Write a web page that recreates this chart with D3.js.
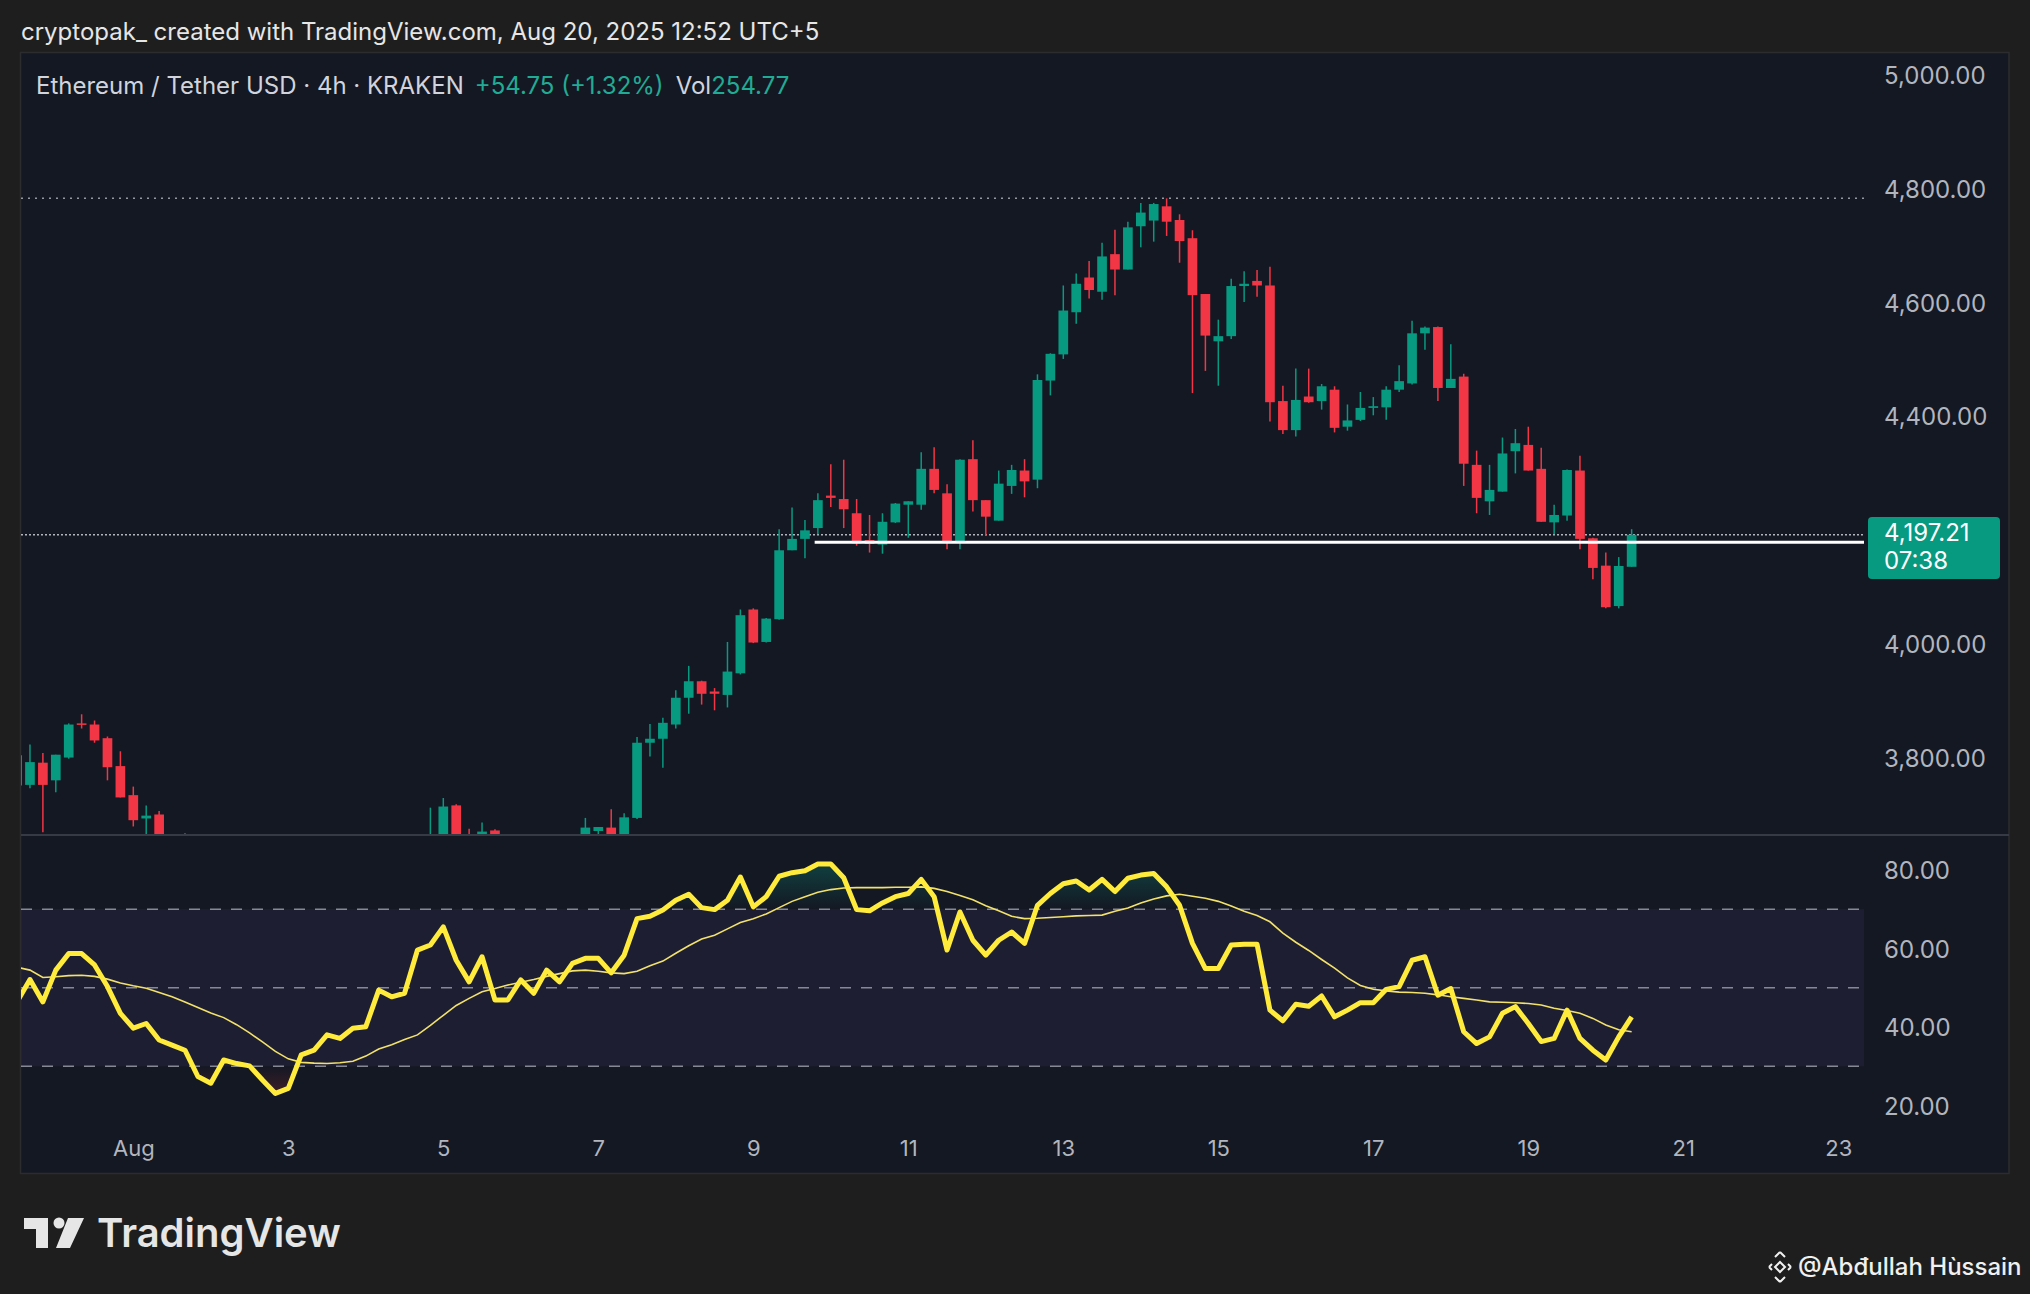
<!DOCTYPE html>
<html>
<head>
<meta charset="utf-8">
<script src="https://cdn.jsdelivr.net/npm/d3@7"></script>
<style>
  body { margin: 0; background: #1e1e1e; }
  text { font-family: Inter, "Noto Sans", sans-serif; }
</style>
</head>
<body>
<svg id="chart" width="2030" height="1294"></svg>
<script>
// ETH/USDT 4h candles, first bar Jul 30 12:00, one bar every 4 hours
const firstBar = Date.UTC(2025, 6, 30, 12);
const opens = [3810,3758,3797,3766,3806,3866,3864,3840,3791,3740,3699,3706,3640,3600,3575,3560,3500,3520,3480,3420,3450,3470,3430,3390,3420,3460,3500,3540,3580,3620,3590,3620,
  3640,3660,3722,3632,3660,3678,3645,3600,3580,3610,3630,3620,3650,3677,3683,3655,3700,3832,3839,3864,3911,3940,3922,3916,3954,4066,4009,4049,4170,4190,4209,4266,4260,
  4235,4188,4180,4219,4250,4250,4313,4270,4185,4330,4258,4222,4283,4310,4294,4468,4514,4588,4649,4624,4690,4663,4739,4749,4774,4750,4718,4620,4537,4546,4634,4643,
  4635,4432,4381,4440,4432,4452,4387,4399,4420,4421,4452,4463,4551,4562,4455,4475,4320,4256,4273,4344,4355,4313,4219,4231,4310,4191,4143,4072,4141];
const highs = [3822,3829,3814,3811,3866,3882,3871,3843,3817,3755,3722,3712,3655,3673,3630,3580,3540,3550,3500,3470,3490,3500,3450,3440,3480,3520,3560,3600,3640,3650,3640,3655,
  3718,3735,3724,3681,3692,3680,3655,3630,3620,3650,3658,3668,3700,3684,3715,3708,3842,3865,3876,3924,3967,3941,3928,4009,4066,4068,4051,4207,4245,4223,4270,4321,4329,
  4260,4232,4235,4253,4256,4342,4351,4286,4330,4363,4258,4310,4320,4330,4479,4516,4635,4656,4678,4710,4733,4747,4780,4780,4788,4760,4732,4620,4575,4647,4660,4662,
  4668,4459,4489,4489,4462,4458,4426,4448,4439,4458,4495,4573,4563,4563,4532,4480,4345,4320,4368,4383,4387,4350,4250,4312,4336,4192,4166,4158,4207];
const lows = [3752,3752,3675,3745,3804,3857,3832,3766,3736,3685,3650,3600,3580,3560,3540,3480,3470,3460,3380,3400,3420,3410,3360,3355,3400,3440,3480,3520,3560,3570,3560,3600,
  3630,3650,3620,3610,3640,3630,3590,3560,3550,3590,3600,3610,3640,3660,3650,3650,3698,3808,3788,3857,3883,3899,3889,3894,3952,4007,4008,4048,4170,4156,4198,4246,4209,
  4178,4166,4164,4218,4192,4241,4270,4172,4172,4238,4195,4222,4269,4263,4279,4442,4506,4568,4612,4610,4618,4663,4702,4712,4722,4675,4446,4485,4459,4541,4606,4615,
  4396,4374,4370,4429,4417,4377,4380,4397,4407,4399,4448,4461,4522,4432,4455,4283,4235,4232,4273,4305,4310,4220,4198,4222,4172,4119,4068,4068,4141];
const closes = [3757,3798,3758,3811,3864,3864,3836,3789,3736,3696,3704,3640,3600,3575,3560,3500,3520,3480,3420,3450,3470,3430,3390,3420,3460,3500,3540,3580,3620,3590,3620,3640,
  3670,3720,3630,3625,3676,3645,3600,3580,3610,3630,3620,3650,3683,3684,3655,3701,3832,3839,3867,3911,3940,3918,3918,3957,4056,4008,4050,4170,4190,4205,4258,4262,4242,
  4182,4181,4220,4252,4256,4313,4276,4185,4329,4258,4229,4287,4311,4291,4469,4515,4591,4638,4627,4686,4663,4737,4763,4778,4747,4713,4618,4547,4546,4634,4638,4635,
  4430,4381,4434,4430,4458,4385,4398,4420,4423,4452,4467,4551,4561,4455,4471,4322,4262,4276,4340,4358,4310,4220,4232,4311,4190,4139,4070,4142.46,4197.21];

// RSI(14) and its moving average, one value per bar
const rsiValues = [46.4,52.1,46.4,54.5,58.7,58.7,55.8,50.3,43.5,39.7,40.9,36.7,35.4,34.1,27.4,25.7,31.6,30.7,30.1,26.5,23.1,24.4,32.9,34.1,38.0,37.1,39.7,40.1,49.4,47.7,48.6,59.6,
  60.9,65.5,57.0,51.5,57.9,46.9,46.9,52.0,48.6,54.5,51.5,56.2,57.5,57.5,53.8,58.3,67.6,68.2,69.8,72.3,73.8,70.4,69.9,72.3,78.2,70.6,73.2,78.4,79.3,79.8,81.5,81.5,78.0,
  69.9,69.6,71.6,73.2,74.0,77.6,73.2,59.6,69.3,62.1,58.3,62.1,64.2,61.3,71.0,74.0,76.5,77.2,74.9,77.6,74.5,77.9,78.7,79.1,75.7,71.0,61.3,54.9,54.9,60.9,61.1,61.1,
  44.3,41.6,45.8,45.3,47.9,42.6,44.3,46.2,46.2,49.6,50.3,57.0,57.9,48.1,49.8,38.8,35.8,37.5,43.5,45.2,40.9,36.3,37.1,44.3,37.1,34.1,31.6,37.5,42.6];
const rsiMa = [55.2,54.5,52.6,52.8,53.1,53.2,52.9,52.2,51.2,50.5,49.9,48.8,47.7,46.4,45.0,43.6,42.4,40.6,38.5,36.2,33.8,31.9,31.0,30.8,30.7,30.9,31.3,32.6,34.4,35.5,36.8,38.0,
  40.4,43.0,45.5,47.3,49.0,49.8,50.7,51.4,52.1,52.9,53.6,54.3,54.5,54.2,53.8,53.6,54.2,55.6,56.8,58.8,60.7,62.4,63.4,65.0,66.6,67.6,68.8,70.4,72.0,73.2,74.3,75.0,75.4,
  75.5,75.5,75.5,75.6,75.6,75.7,75.3,74.5,73.5,72.4,70.9,69.6,68.2,67.6,67.7,67.9,68.1,68.3,68.4,68.5,69.5,70.3,71.6,72.6,73.4,73.8,73.3,72.8,72.0,70.8,69.5,68.4,
  66.8,63.9,61.6,59.5,57.2,55.0,52.5,50.6,49.6,49.2,48.9,48.8,48.6,48.2,47.7,47.3,46.9,46.4,46.3,46.2,46.0,45.6,44.8,44.2,43.5,42.2,40.5,39.3,38.8];

const priceTicks = [3800, 4000, 4400, 4600, 4800, 5000];
const rsiTicks = [20, 40, 60, 80];
const rsiLevels = [70, 50, 30];
const tickDays = [1, 3, 5, 7, 9, 11, 13, 15, 17, 19, 21, 23];
const tickLabels = ["Aug", "3", "5", "7", "9", "11", "13", "15", "17", "19", "21", "23"];
const highLine = 4788;      // dotted line at the top
const supportLine = 4184;   // white horizontal line
const supportFrom = Date.UTC(2025, 7, 9, 19);
const volume = "254.77";
const countdown = "07:38";

const up = "#089981", down = "#f23645";
const plotL = 21, plotR = 1864, frameR = 2009, paneTop = 52, split = 835, rsiBottom = 1126, frameBottom = 1173;

const svg = d3.select("#chart");
const defs = svg.append("defs");

const times = closes.map((d, i) => new Date(firstBar + i * 4 * 3600 * 1000));

var x = d3.scaleUtc()
  .domain([new Date(Date.UTC(2025, 7, 1)), new Date(Date.UTC(2025, 7, 23))])
  .range([133.3, 1838.3]);
var y = d3.scaleLinear().domain([3670, 5045]).range([split, paneTop]);
var yr = d3.scaleLinear().domain([14.8, 88.9]).range([rsiBottom, split]);

// header
svg.append("text").attr("x", 21).attr("y", 40).attr("fill", "#e6e6e6").style("font-size", "24px")
  .text("cryptopak_ created with TradingView.com, Aug 20, 2025 12:52 UTC+5");

// chart frame
svg.append("rect").attr("x", 20.5).attr("y", paneTop + 0.5).attr("width", frameR - 20.5).attr("height", frameBottom - paneTop)
  .attr("fill", "#141823").attr("stroke", "#2c2c2e").attr("stroke-width", 1.5);

defs.append("clipPath").attr("id", "clipPrice").append("rect")
  .attr("x", plotL).attr("y", paneTop).attr("width", plotR - plotL).attr("height", split - paneTop);
defs.append("clipPath").attr("id", "clipRsi").append("rect")
  .attr("x", plotL).attr("y", split).attr("width", plotR - plotL).attr("height", rsiBottom - split);

// price pane
const pricePane = svg.append("g").attr("clip-path", "url(#clipPrice)");

pricePane.append("line").attr("x1", plotL).attr("x2", plotR)
  .attr("y1", y(highLine)).attr("y2", y(highLine))
  .attr("stroke", "#9598a1").attr("stroke-width", 1.5).attr("stroke-dasharray", "2,5");

const lastClose = closes[closes.length - 1];
pricePane.append("line").attr("x1", plotL).attr("x2", plotR)
  .attr("y1", y(lastClose)).attr("y2", y(lastClose))
  .attr("stroke", "#b2b5be").attr("stroke-width", 1.5).attr("stroke-dasharray", "2,2");

const barW = (x(times[1]) - x(times[0])) * 0.75;
const candles = pricePane.append("g").selectAll("g").data(closes).join("g");
candles.append("line")
  .attr("x1", (d, i) => x(times[i])).attr("x2", (d, i) => x(times[i]))
  .attr("y1", (d, i) => y(highs[i])).attr("y2", (d, i) => y(lows[i]))
  .attr("stroke", (d, i) => d >= opens[i] ? up : down).attr("stroke-width", 1.5);
candles.append("rect")
  .attr("x", (d, i) => x(times[i]) - barW / 2).attr("width", barW)
  .attr("y", (d, i) => y(Math.max(d, opens[i])))
  .attr("height", (d, i) => Math.max(1.5, Math.abs(y(d) - y(opens[i]))))
  .attr("fill", (d, i) => d >= opens[i] ? up : down);

pricePane.append("line").attr("x1", x(new Date(supportFrom))).attr("x2", plotR)
  .attr("y1", y(supportLine)).attr("y2", y(supportLine))
  .attr("stroke", "#ffffff").attr("stroke-width", 3);

// pane separator
svg.append("line").attr("x1", plotL).attr("x2", frameR).attr("y1", split).attr("y2", split)
  .attr("stroke", "#363a45").attr("stroke-width", 2);

// price axis
const pAxis = svg.append("g").attr("transform", "translate(1884,-2)")
  .call(d3.axisRight(y).tickValues(priceTicks).tickFormat(d3.format(",.2f")).tickSize(0).tickPadding(0));
pAxis.select(".domain").remove();
pAxis.selectAll("text").attr("fill", "#b2b5be").style("font-size", "24px").style("font-family", "Inter, sans-serif");

// last price label
svg.append("rect").attr("x", 1868).attr("y", 517).attr("width", 132).attr("height", 62).attr("rx", 4).attr("fill", up);
svg.append("text").attr("x", 1884).attr("y", 541).attr("fill", "#ffffff").style("font-size", "24px")
  .text(d3.format(",.2f")(lastClose));
svg.append("text").attr("x", 1884).attr("y", 569).attr("fill", "#ffffff").style("font-size", "24px").text(countdown);

// legend
const prevClose = closes[closes.length - 2];
const chg = lastClose - prevClose;
const legend = svg.append("text").attr("x", 36).attr("y", 94).style("font-size", "24px");
legend.append("tspan").attr("fill", "#d1d4dc").text("Ethereum / Tether USD · 4h · KRAKEN");
legend.append("tspan").attr("dx", 11).attr("fill", "#22ab94")
  .text("+" + chg.toFixed(2) + " (+" + (chg / prevClose * 100).toFixed(2) + "%)");
legend.append("tspan").attr("dx", 12).attr("fill", "#d1d4dc").text("Vol");
legend.append("tspan").attr("fill", "#22ab94").text(volume);

// RSI pane
const rsiPane = svg.append("g").attr("clip-path", "url(#clipRsi)");
rsiPane.append("rect").attr("x", plotL).attr("width", plotR - plotL)
  .attr("y", yr(70)).attr("height", yr(30) - yr(70)).attr("fill", "rgba(126,87,194,0.1)");

const gOb = defs.append("linearGradient").attr("id", "gOb").attr("gradientUnits", "userSpaceOnUse")
  .attr("x1", 0).attr("x2", 0).attr("y1", yr(100)).attr("y2", yr(70));
gOb.append("stop").attr("offset", 0).attr("stop-color", up).attr("stop-opacity", 0.8);
gOb.append("stop").attr("offset", 1).attr("stop-color", up).attr("stop-opacity", 0);
const gOs = defs.append("linearGradient").attr("id", "gOs").attr("gradientUnits", "userSpaceOnUse")
  .attr("x1", 0).attr("x2", 0).attr("y1", yr(0)).attr("y2", yr(30));
gOs.append("stop").attr("offset", 0).attr("stop-color", down).attr("stop-opacity", 0.8);
gOs.append("stop").attr("offset", 1).attr("stop-color", down).attr("stop-opacity", 0);
defs.append("clipPath").attr("id", "clipOb").append("rect")
  .attr("x", plotL).attr("y", split).attr("width", plotR - plotL).attr("height", yr(70) - split);
defs.append("clipPath").attr("id", "clipOs").append("rect")
  .attr("x", plotL).attr("y", yr(30)).attr("width", plotR - plotL).attr("height", rsiBottom - yr(30));

rsiPane.append("path").datum(rsiValues).attr("clip-path", "url(#clipOb)").attr("fill", "url(#gOb)")
  .attr("d", d3.area().x((d, i) => x(times[i])).y0(yr(70)).y1(d => yr(d)));
rsiPane.append("path").datum(rsiValues).attr("clip-path", "url(#clipOs)").attr("fill", "url(#gOs)")
  .attr("d", d3.area().x((d, i) => x(times[i])).y0(yr(30)).y1(d => yr(d)));

rsiPane.selectAll(".lvl").data(rsiLevels).join("line").attr("class", "lvl")
  .attr("x1", plotL).attr("x2", plotR).attr("y1", d => yr(d)).attr("y2", d => yr(d))
  .attr("stroke", "#868993").attr("stroke-width", 1.5).attr("stroke-dasharray", "11,10");

rsiPane.append("path").datum(rsiMa).attr("fill", "none").attr("stroke", "#f2e16b").attr("stroke-width", 1.6)
  .attr("d", d3.line().x((d, i) => x(times[i])).y(d => yr(d)));
rsiPane.append("path").datum(rsiValues).attr("fill", "none").attr("stroke", "#ffeb3b").attr("stroke-width", 5)
  .attr("stroke-linejoin", "round")
  .attr("d", d3.line().x((d, i) => x(times[i])).y(d => yr(d)));

const rAxis = svg.append("g").attr("transform", "translate(1884,1)")
  .call(d3.axisRight(yr).tickValues(rsiTicks).tickFormat(d3.format(".2f")).tickSize(0).tickPadding(0));
rAxis.select(".domain").remove();
rAxis.selectAll("text").attr("fill", "#b2b5be").style("font-size", "24px").style("font-family", "Inter, sans-serif");

// time axis
const tickDates = tickDays.map(d => new Date(Date.UTC(2025, 7, d)));
const tAxis = svg.append("g").attr("transform", "translate(0,1148)")
  .call(d3.axisBottom(x).tickValues(tickDates).tickFormat((d, i) => tickLabels[i]).tickSize(0).tickPadding(0));
tAxis.select(".domain").remove();
tAxis.selectAll("text").attr("y", 0).attr("dy", "0.35em").attr("fill", "#b2b5be")
  .style("font-size", "22px").style("font-family", "Inter, sans-serif");

// TradingView logo
const logo = svg.append("g").attr("fill", "#e6e6e6");
logo.append("path").attr("d", "M24,1218 H48 V1248 H36 V1229 H24 Z");
logo.append("circle").attr("cx", 59).attr("cy", 1223).attr("r", 5.5);
logo.append("path").attr("d", "M68,1218 H84 L70,1248 H56 Z");
svg.append("text").attr("x", 97).attr("y", 1247).attr("fill", "#e6e6e6")
  .style("font-size", "40px").style("font-weight", 600).text("TradingView");

// watermark
const wm = svg.append("g").attr("fill", "none").attr("stroke", "#f0f0f0").attr("stroke-width", 2)
  .attr("transform", "translate(1780,1267)");
wm.append("path").attr("d", "M0,-5 L5,0 L0,5 L-5,0 Z");
wm.append("path").attr("d", "M0,-15 L5,-10 M0,-15 L-5,-10 M0,15 L5,10 M0,15 L-5,10 M-11,0 L-8,-3 M-11,0 L-8,3 M11,0 L8,-3 M11,0 L8,3");
svg.append("text").attr("x", 1798).attr("y", 1275).attr("fill", "#f0f0f0")
  .style("font-size", "24px").style("font-weight", 500).text("@Abđullah Hùssain");
</script>
</body>
</html>
